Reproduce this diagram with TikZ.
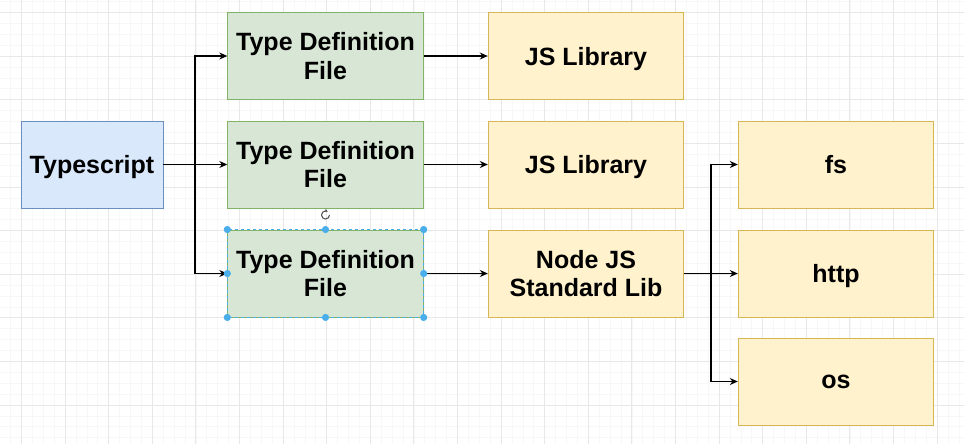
\documentclass[tikz,border=0pt]{standalone}
\usepackage{fontspec}
\setmainfont{Liberation Sans}
\usepackage{tikz}
\usetikzlibrary{arrows.meta}
\definecolor{tsfill}{HTML}{DAE8FC}
\definecolor{tsline}{HTML}{6C8EBF}
\definecolor{deffill}{HTML}{D8E7D5}
\definecolor{defline}{HTML}{82B366}
\definecolor{libfill}{HTML}{FFF2CC}
\definecolor{libline}{HTML}{D6B656}
\definecolor{selblue}{HTML}{4AAEEB}

\begin{document}
\begin{tikzpicture}[x=1pt, y=-1pt,
		box/.style={draw, line width=0.9pt, minimum width=195.5pt, minimum height=87pt, text depth=0pt, align=center, font=\fontsize{25}{28.5}\selectfont\bfseries},
		tsbox/.style={box, fill=tsfill, draw=tsline, minimum width=142pt},
		defbox/.style={box, fill=deffill, draw=defline},
		libbox/.style={box, fill=libfill, draw=libline},
		arr/.style={-{Stealth[length=8pt, width=7pt]}, line width=1.1pt}]
			\useasboundingbox (0, 0) rectangle (964, 444);
			\fill[white](0, 0) rectangle (964, 444);
			% grid
			\foreach \i in {-2,...,86} \draw[black!3, line width=0.6pt]({21.4+10.9*\i}, 0) -- ++(0, 444);
			\foreach \j in {-1,...,40} \draw[black!3, line width=0.6pt](0, {12.5+10.9*\j}) -- ++(964, 0);
			\foreach \i in {-1,...,22} \draw[black!9, line width=0.8pt]({21.4+43.6*\i}, 0) -- ++(0, 444);
			\foreach \j in {0,...,10} \draw[black!9, line width=0.8pt](0, {12.5+43.6*\j}) -- ++(964, 0);
			% boxes
			\node[tsbox] (ts) at (92, 164.5) {Typescript};
			\node[defbox] (tdfA) at (325.5, 56) {Type Definition\\File};
			\node[defbox] (tdfB) at (325.5, 164.5) {Type Definition\\File};
			\node[defbox] (tdfC) at (325.5, 273.5) {Type Definition\\File};
			\node[libbox] (jsA) at (586, 56) {JS Library};
			\node[libbox] (jsB) at (586, 164.5) {JS Library};
			\node[libbox] (njs) at (586, 273.5) {Node JS\\Standard Lib};
			\node[libbox] (fs) at (836, 164.5) {fs};
			\node[libbox] (http) at (836, 273.5) {http};
			\node[libbox] (os) at (836, 381.5) {os};
			% connectors
			\coordinate (forkA) at (195, 164.5);
			\coordinate (forkB) at (711, 273.5);
			\draw[arr](ts.east) -- (forkA) |- (tdfA.west);
			\draw[arr](ts.east) -- (tdfB.west);
			\draw[arr](forkA) |- (tdfC.west);
			\draw[arr](tdfA.east) -- (jsA.west);
			\draw[arr](tdfB.east) -- (jsB.west);
			\draw[arr](tdfC.east) -- (njs.west);
			\draw[arr](njs.east) -- (forkB) |- (fs.west);
			\draw[arr](njs.east) -- (http.west);
			\draw[arr](forkB) |- (os.west);
			% selection of the third box
			\draw[selblue, dashed, line width=0.7pt](tdfC.north west) rectangle (tdfC.south east);
			\foreach \a in {north west, north, north east, east, south east, south, south west, west}
				\fill[selblue](tdfC.\a) circle (3.6);
			\coordinate (rot) at (329.5, 215);
			\draw[black!70, line width=1pt, -{Stealth[length=3pt, width=3pt]}](rot) arc (0:300:4);
		\end{tikzpicture}
\end{document}
